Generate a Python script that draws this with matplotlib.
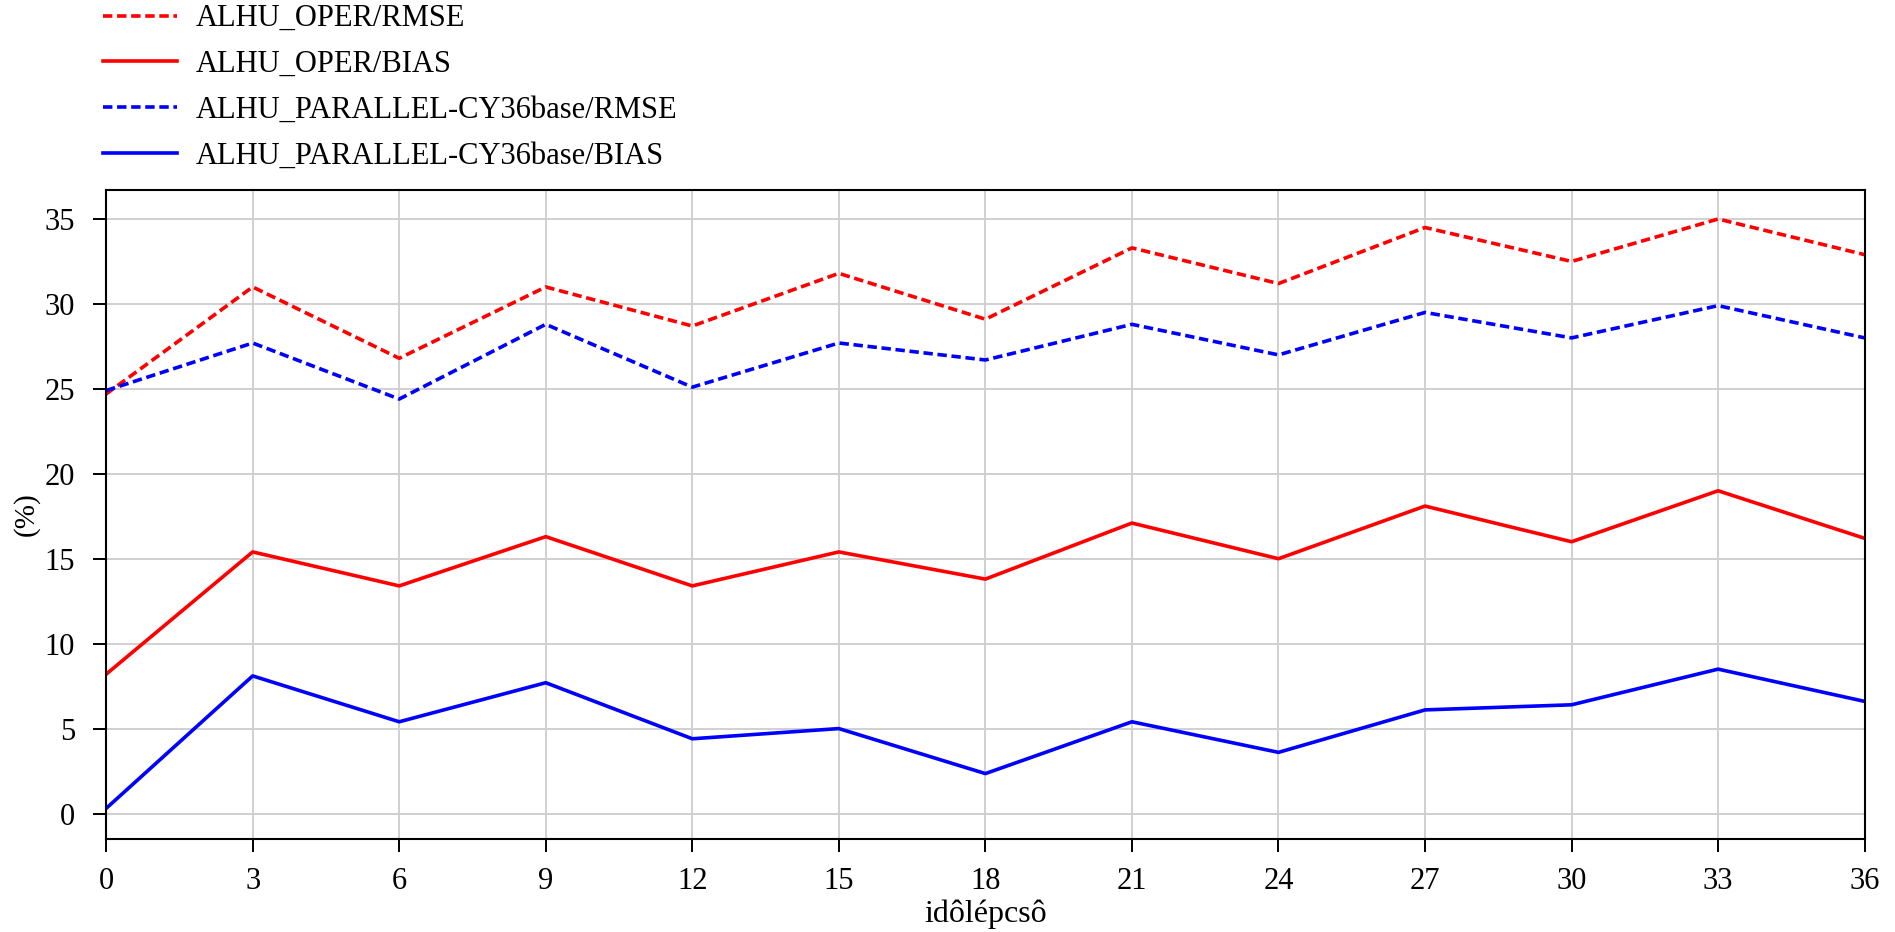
import matplotlib
matplotlib.use("Agg")
import matplotlib.pyplot as plt

steps = [0, 3, 6, 9, 12, 15, 18, 21, 24, 27, 30, 33, 36]
oper_rmse = [24.7, 31.0, 26.8, 31.0, 28.7, 31.8, 29.1, 33.3, 31.2, 34.5, 32.5, 35.0, 32.9]
oper_bias = [8.2, 15.4, 13.4, 16.3, 13.4, 15.4, 13.8, 17.1, 15.0, 18.1, 16.0, 19.0, 16.2]
par_rmse = [24.9, 27.7, 24.4, 28.8, 25.1, 27.7, 26.7, 28.8, 27.0, 29.5, 28.0, 29.9, 28.0]
par_bias = [0.3, 8.1, 5.4, 7.7, 4.4, 5.0, 2.35, 5.4, 3.6, 6.1, 6.4, 8.5, 6.6]
labels = ["ALHU_OPER/RMSE", "ALHU_OPER/BIAS",
          "ALHU_PARALLEL-CY36base/RMSE", "ALHU_PARALLEL-CY36base/BIAS"]
yticks = [0, 5, 10, 15, 20, 25, 30, 35]

plt.rcParams['font.family'] = ['Liberation Serif', 'DejaVu Serif']

fig = plt.figure(figsize=(18.95, 9.32), dpi=100)
ax = fig.add_axes([0.056, 0.0998, 0.928, 0.6962])

lw = 2.6
dash = (2.6, 1.3)
l1, = ax.plot(steps, oper_rmse, color='#ff0000', lw=lw, linestyle=(0, dash), label=labels[0])
l2, = ax.plot(steps, oper_bias, color='#ff0000', lw=lw, label=labels[1])
l3, = ax.plot(steps, par_rmse, color='#0000ff', lw=lw, linestyle=(0, dash), label=labels[2])
l4, = ax.plot(steps, par_bias, color='#0000ff', lw=lw, label=labels[3])

ax.set_xlim(0, 36)
ax.set_ylim(-1.5, 36.7)
ax.set_xticks(steps)
ax.set_yticks(yticks)
ax.grid(True, color='#d0d0d0', lw=1.4)
ax.set_axisbelow(True)
ax.tick_params(direction='out', length=9.4, width=1.4, labelsize=22)
ax.tick_params(axis='x', pad=10.5)
ax.tick_params(axis='y', pad=13)
for s in ax.spines.values():
    s.set_linewidth(1.5)
ax.set_xlabel('idôlépcsô', fontsize=23, labelpad=3)
ax.set_ylabel('(%)', fontsize=21, labelpad=3.5)

fig.legend(handles=[l1, l2, l3, l4], loc='upper left', bbox_to_anchor=(0.048, 1.0086),
           frameon=False, fontsize=22, handlelength=2.43, handletextpad=0.59,
           labelspacing=0.55, borderaxespad=0)

fig.savefig('out.png', dpi=100)
